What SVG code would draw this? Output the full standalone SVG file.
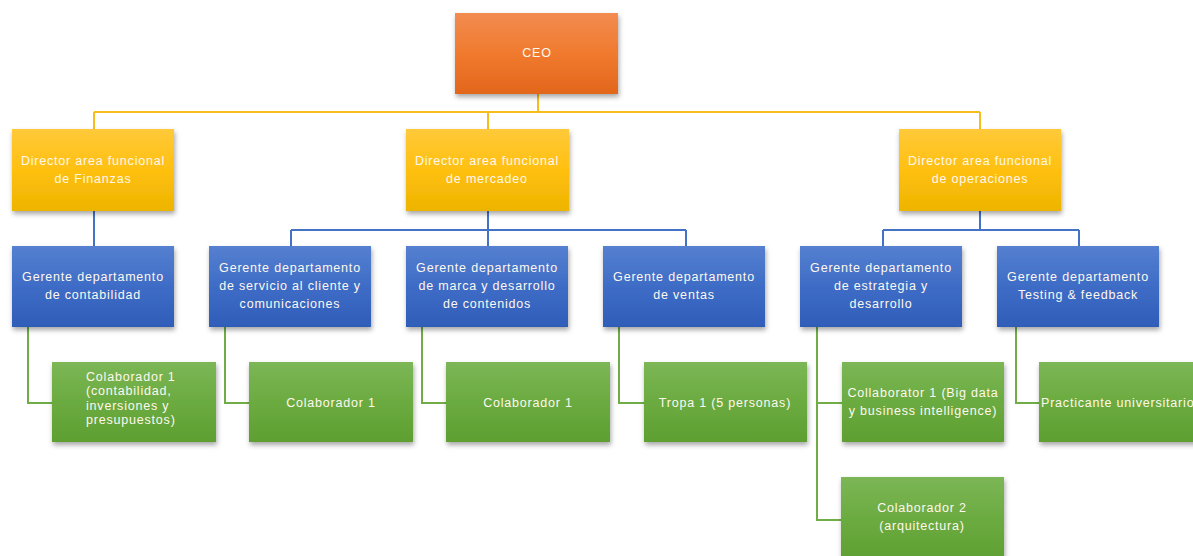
<svg xmlns="http://www.w3.org/2000/svg" width="1193" height="556" viewBox="0 0 1193 556">
<defs>
<linearGradient id="gO" x1="0" y1="0" x2="0" y2="1"><stop offset="0" stop-color="#F28C50"/><stop offset="0.5" stop-color="#F07A2E"/><stop offset="1" stop-color="#E2661C"/></linearGradient>
<linearGradient id="gY" x1="0" y1="0" x2="0" y2="1"><stop offset="0" stop-color="#FFC93A"/><stop offset="0.5" stop-color="#FFC010"/><stop offset="1" stop-color="#EDB400"/></linearGradient>
<linearGradient id="gB" x1="0" y1="0" x2="0" y2="1"><stop offset="0" stop-color="#5580D0"/><stop offset="0.5" stop-color="#3E6CC6"/><stop offset="1" stop-color="#2F5DB8"/></linearGradient>
<linearGradient id="gG" x1="0" y1="0" x2="0" y2="1"><stop offset="0" stop-color="#7CB656"/><stop offset="0.5" stop-color="#6BAB40"/><stop offset="1" stop-color="#5E9F31"/></linearGradient>
<filter id="sh" x="-10%" y="-10%" width="125%" height="130%"><feDropShadow dx="1" dy="3" stdDeviation="2.5" flood-color="#000" flood-opacity="0.35"/></filter>
</defs>
<style>
text{font-family:"Liberation Sans",Arial,sans-serif;font-size:12.5px;letter-spacing:0.8px;fill:#FFF8EE;text-anchor:middle;dominant-baseline:central}
.l{text-anchor:start}
.o{fill:url(#gO);filter:url(#sh)}
.y{fill:url(#gY);filter:url(#sh)}
.b{fill:url(#gB);filter:url(#sh)}
.g{fill:url(#gG);filter:url(#sh)}
.cy{stroke:#F7BD1E;stroke-width:2;fill:none}
.cb{stroke:#4472C4;stroke-width:2;fill:none}
.cg{stroke:#70AD47;stroke-width:2;fill:none}
</style>
<g id="connectors">
<path class="cy" d="M538 94V112M94 112H980M94 112V129M488 112V129M980 112V129"/>
<path class="cb" d="M94 211V246M488 211V230M291 230H686M291 230V246M488 230V246M686 230V246M980 211V230M883 230H1079M883 230V246M1079 230V246"/>
<path class="cg" d="M28 327V403H52M225 327V403H249M422 327V403H446M619 327V403H644M817 327V520H841M817 403H842M1016 327V403H1039"/>
</g>
<g id="ceo"><rect class="o" x="455" y="13" width="163" height="81"/><text x="537" y="53">CEO</text></g>
<g id="dir-finanzas"><rect class="y" x="12" y="129" width="162" height="82"/><text x="93" y="161">Director area funcional</text><text x="93" y="179">de Finanzas</text></g>
<g id="dir-mercadeo"><rect class="y" x="406" y="129" width="163" height="82"/><text x="487" y="161">Director area funcional</text><text x="487" y="179">de mercadeo</text></g>
<g id="dir-operaciones"><rect class="y" x="899" y="129" width="162" height="82"/><text x="980" y="161">Director area funcional</text><text x="980" y="179">de operaciones</text></g>
<g id="ger-contabilidad"><rect class="b" x="12" y="246" width="162" height="81"/><text x="93" y="277">Gerente departamento</text><text x="93" y="295">de contabilidad</text></g>
<g id="ger-servicio"><rect class="b" x="209" y="246" width="162" height="81"/><text x="290" y="268">Gerente departamento</text><text x="290" y="286">de servicio al cliente y</text><text x="290" y="304">comunicaciones</text></g>
<g id="ger-marca"><rect class="b" x="406" y="246" width="162" height="81"/><text x="487" y="268">Gerente departamento</text><text x="487" y="286">de marca y desarrollo</text><text x="487" y="304">de contenidos</text></g>
<g id="ger-ventas"><rect class="b" x="603" y="246" width="162" height="81"/><text x="684" y="277">Gerente departamento</text><text x="684" y="295">de ventas</text></g>
<g id="ger-estrategia"><rect class="b" x="800" y="246" width="162" height="81"/><text x="881" y="268">Gerente departamento</text><text x="881" y="286">de estrategia y</text><text x="881" y="304">desarrollo</text></g>
<g id="ger-testing"><rect class="b" x="997" y="246" width="162" height="81"/><text x="1078" y="277">Gerente departamento</text><text x="1078" y="295">Testing &amp; feedback</text></g>
<g id="col-contabilidad"><rect class="g" x="52" y="362" width="164" height="80"/><text class="l" x="86" y="377">Colaborador 1</text><text class="l" x="86" y="391">(contabilidad,</text><text class="l" x="86" y="406">inversiones  y</text><text class="l" x="86" y="420">presupuestos)</text></g>
<g id="col-servicio"><rect class="g" x="249" y="362" width="164" height="80"/><text x="331" y="403">Colaborador 1</text></g>
<g id="col-marca"><rect class="g" x="446" y="362" width="164" height="80"/><text x="528" y="403">Colaborador 1</text></g>
<g id="tropa-ventas"><rect class="g" x="644" y="362" width="163" height="80"/><text x="725" y="403">Tropa 1 (5 personas)</text></g>
<g id="col-bigdata"><rect class="g" x="842" y="362" width="162" height="80"/><text x="923" y="393">Collaborator 1 (Big data</text><text x="923" y="411">y business intelligence)</text></g>
<g id="col-arquitectura"><rect class="g" x="841" y="477" width="163" height="85"/><text x="922" y="508">Colaborador 2</text><text x="922" y="526">(arquitectura)</text></g>
<g id="practicante"><rect class="g" x="1039" y="362" width="164" height="80"/><text class="l" x="1041" y="403">Practicante  universitario</text></g>
</svg>
